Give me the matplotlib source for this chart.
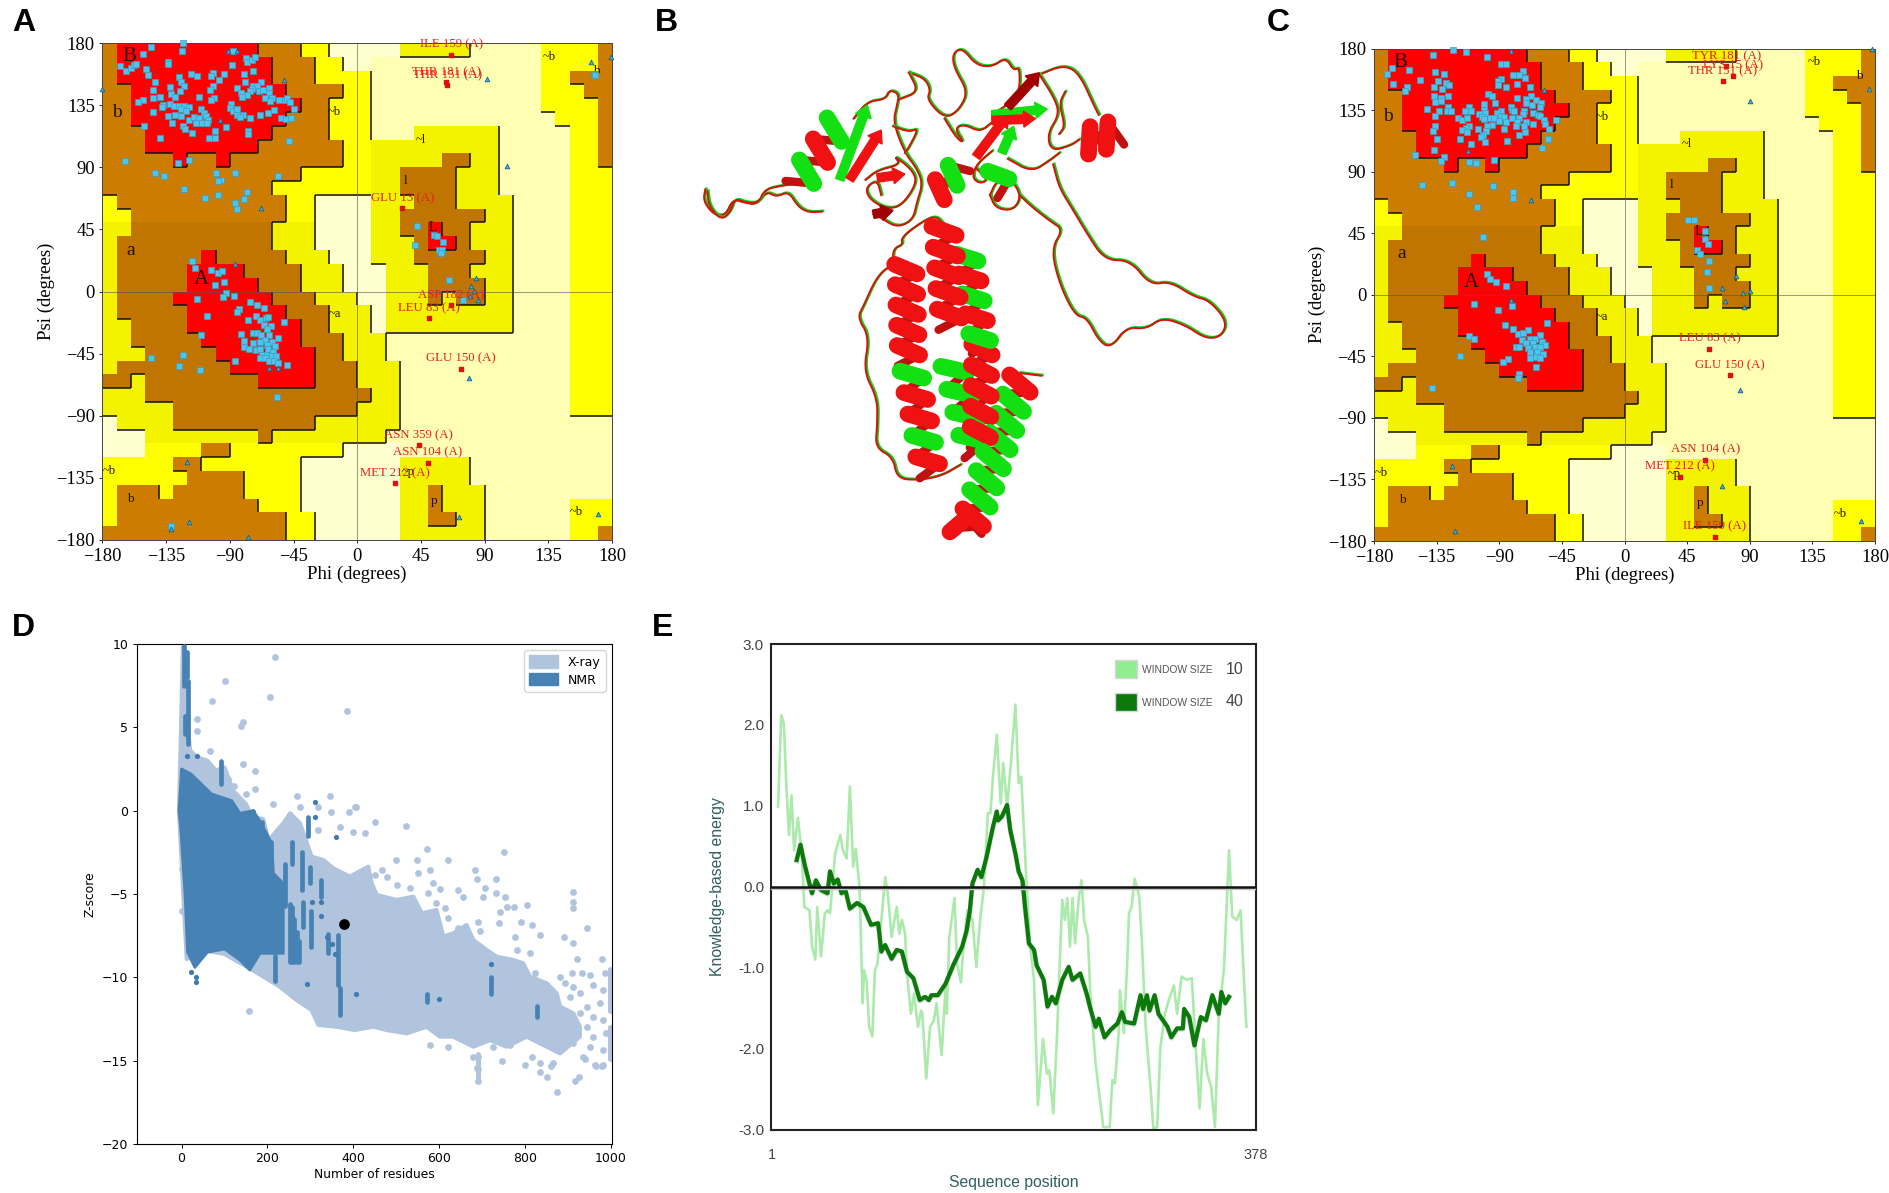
import matplotlib
matplotlib.use('Agg')
import matplotlib.pyplot as plt
import numpy as np
from matplotlib.colors import ListedColormap
from matplotlib.patches import FancyArrow, Patch, Rectangle

W, H = 1889, 1193

# Ramachandran regions, 10 degree cells, top row psi 170..180, run lengths per row
region_rows = [
    'B1 R10 B3 Y2 C5 G5 P5 Y4 B1', 'B1 R11 B3 Y2 C2 P12 Y4 B1', 'B1 R11 B3 Y4 P12 Y2 B3',
    'B2 R11 B4 Y2 P12 Y3 B2', 'B2 R12 B2 Y3 P12 Y4 B1', 'B2 R11 B3 Y3 P13 Y3 B1',
    'B3 R9 B4 Y3 P3 G6 P5 Y2 B1', 'B3 R8 B6 Y2 G9 P5 Y2 B1', 'B5 R1 B2 R1 B8 Y2 G5 D2 G2 P5 Y2 B1',
    'B14 Y5 G2 D4 G3 P5 Y3', 'B12 Y7 G2 D4 G3 P5 Y3', 'Y1 B12 Y2 C4 G3 D3 G4 P4 Y3',
    'Y2 B11 Y2 C4 G2 D6 G2 P4 Y3', 'G2 D10 G3 C4 G2 D2 R1 D2 G3 P4 Y3', 'G1 D11 G3 C4 G3 D1 R2 D1 G3 P4 Y3',
    'G1 D6 R1 D5 G3 C3 G3 D5 G2 P4 Y3', 'G1 D5 R4 D4 G3 C3 G3 D3 G3 P4 Y3', 'G1 D5 R5 D3 G3 C3 G3 D4 G2 P4 Y3',
    'G1 D4 R7 D3 G3 C2 G3 D1 G1 D2 G2 P4 Y3', 'G1 D5 R7 D3 G3 C1 G9 P4 Y3', 'G2 D4 R8 D2 G3 C1 G9 P4 Y3',
    'G2 D5 R7 D3 G3 P13 Y3', 'G3 D5 R7 D2 G3 P13 Y3', 'G1 D8 R6 D3 G3 P12 Y3',
    'D2 G1 D8 R4 D3 G3 P12 Y3', 'G3 D16 G2 P12 Y3', 'G5 D13 G3 P12 Y3',
    'C1 G4 D10 G6 P15', 'C3 G8 D1 G8 P16', 'C3 Y4 B2 Y8 C4 P15',
    'Y5 B2 Y7 C7 G5 P10', 'Y6 B4 Y4 C7 G5 P10', 'Y1 B3 Y1 B5 Y4 C7 G2 B1 G3 P9',
    'Y1 B10 Y3 C7 G2 B1 G3 P6 Y3', 'Y1 B12 Y2 C6 G2 B2 G2 P6 Y3', 'B13 Y2 C6 G6 P6 Y2 B1',
]
region_codes = 'PCGYDBR'
region_colors = ['#FFFFB4', '#FFFFD0', '#F3F300', '#FFFF00', '#C07500', '#CC7C00', '#FF0000']
region_rank = {'P': 0, 'C': 0, 'G': 1, 'Y': 1, 'D': 2, 'B': 2, 'R': 3}
region_labels = [('B', -161, 170, 15), ('b', -170, 130, 14), ('a', -160, 30, 14), ('A', -110, 9, 15),
                 ('~b', -16, 130, 9), ('~l', 45, 110, 9), ('l', 34, 80, 9.5), ('L', 53.5, 46, 10),
                 ('~a', -16, -16, 9), ('~b', 136, 170, 9), ('b', 169, 160, 9.5), ('b', -160, -150, 9.5),
                 ('~b', -175, -130, 9), ('p', 54.5, -152, 9.5), ('~p', 36, -131, 9), ('~b', 155, -160, 9)]
angle_ticks = [-180, -135, -90, -45, 0, 45, 90, 135, 180]

a_squares = [
    (-123,180),(-145.5,177),(-123.5,174.5),(-151,172),(-88,174),(-167.5,163),(-163,160),(-160,162),(-157.5,164),(-156,165),
    (-134,166),(-133.5,164.5),(-78.5,169),(-77.5,166),(-74.5,168),(-72.5,170),(-88.5,164),(-149,161),(-148,157),(-73.5,160),
    (-80,157.5),(-94,157.5),(-102,158.5),(-103,156),(-117.5,157.5),(-113.5,156),(-126,155.5),(-142.5,151.5),(-124.5,151.5),(-122.5,149),
    (-97.5,153),(-102,149),(-104,146),(-79,151.5),(-68,151.5),(-85,147.5),(-144,146),(-132.5,148),(-125,145),(-131.5,143),
    (-128.5,141),(-139,141),(-144,140),(-151,139),(-155,137),(-111.5,141),(-101,140.5),(-103,139),(-73.5,148.5),(-70.5,149),
    (-74.5,146.5),(-76,145),(-78,142),(-82,144),(-81.5,141),(-69.5,145),(-66.5,146),(-62.5,147.5),(-62,143.5),(-65,140.5),
    (-60,140.5),(-61.5,138),(-55.5,139),(-51,139),(-49.5,140),(-47.5,137.5),(-45,132.5),(-53.5,126),(-50.5,125),(-46.5,125.5),
    (-48.5,109),(-132,136),(-137,135),(-138,134),(-129.5,134.5),(-126,134.5),(-122.5,134.5),(-119,134),(-124.5,132),(-121,131),
    (-110,132.5),(-108,129),(-106.5,127),(-105.5,124),(-89,135.5),(-90,133),(-87.5,130.5),(-85,132),(-85,128),(-80.5,128),
    (-83,126.5),(-75.5,125.5),(-68.5,128),(-63,129),(-59,131.5),(-144.5,130),(-133.5,127),(-128.5,128),(-124.5,127),(-118.5,124),
    (-115,126.5),(-112,125.5),(-114,122),(-109.5,122),(-106,122),(-130.5,122),(-123,120),(-122,117.5),(-150.5,120),(-117,114.5),
    (-93,119),(-100.5,116.5),(-77,116),(-77,114),(-139.5,111),(-104.5,111),(-100.5,111),(-119,95),(-126.5,93),(-164,94.5),
    (-143,85.5),(-136.5,84),(-100,85.5),(-96.5,80.5),(-86,85.5),(-56,83.5),(-122.5,74),(-107.5,67.5),(-98,70),(-98,80),
    (-77.5,72),(-80,67),(-86,64),(-85,60),(42,47.5),(41,34),(54.5,41),(56.5,40.5),(60.5,35.5),(58,30),
    (60,30),(59,28),(64.5,8),(75,-6.5),(-131.5,-170),(167,157.5),(168,157),(-145.5,-48),
    (-117,22),(-114.5,17),(-103,15.5),(-98,13.5),(-95.5,15),(-100.5,5),(-94,7),(-93,-1),(-94.5,-4),(-87,-3),
    (-113,-5.5),(-76,-7.5),(-71,-10),(-65.5,-12),(-83.5,-13),(-85,-15),(-106,-17.5),(-71.5,-18),(-69,-21),(-77,-21),
    (-64.5,-19),(-63,-18.5),(-52,-22),(-65.5,-24.5),(-61,-25),(-63.5,-27.5),(-73.5,-30),(-71,-30),(-82,-30.5),(-68,-31.5),
    (-110,-31.5),(-80,-36),(-73.5,-37.5),(-80,-40),(-76.5,-41.5),(-71.5,-42.5),(-62,-31.5),(-56,-34),(-65,-35),(-60.5,-36.5),
    (-69,-36.5),(-64,-39),(-58,-39.5),(-69,-41.5),(-63,-42),(-59.5,-43.5),(-67.5,-46),(-64,-46),(-60.5,-47),(-57.5,-47),
    (-69,-48),(-65,-48.5),(-62,-50),(-59,-50),(-56,-51.5),(-86,-50.5),(-49.5,-53),(-123,-46),(-126,-54),(-111,-57),(-57,-76.5),
]
a_triangles = [(-68,60.5),(-86.5,20),(84,10),(80.5,4),(82.5,0.5),(79.5,-3),(85,-6.5),(105.5,91),(92,154),(79,-63),
               (165,166.5),(179.5,170),(-180,146.5),(-52,153),(-85,174.5),(-97,124),(-120.5,-123.5),(-118.5,-167),(-131.5,-172),
               (-77,-178),(72,-163),(170,-161),(-62,-55.5),(-56,-55.5),(-91,174)]
a_flagged = [('ILE 159 (A)',66.5,171.5),('THR 181 (A)',63,151.5),('THR 151 (A)',63.5,149.5),('GLU 13 (A)',32,60.5),
             ('ASP 182 (A)',66,-10),('LEU 83 (A)',50.5,-19.5),('GLU 150 (A)',73,-56),('ASN 359 (A)',43.5,-111.5),
             ('ASN 104 (A)',50,-124),('MET 212 (A)',26.5,-139)]

c_squares = [
    (-123,179),(-114,177.5),(-137.5,175),(-99,174),(-88.5,168.5),(-85.5,169),(-167,165.5),(-170.5,161),(-155,164),(-136.5,163),
    (-129.5,161),(-73,163.5),(-80,160.5),(-76,160.5),(-71.5,158.5),(-89,157.5),(-91,156.5),(-91,153.5),(-147,157),(-134,156),
    (-128,154.5),(-126,153),(-166,154),(-156.5,151.5),(-157.5,149),(-137,151.5),(-131,150.5),(-85,151.5),(-77,154),(-68,151.5),
    (-98,147),(-95,145),(-137,145),(-127,145),(-132,143.5),(-136,141),(-131.5,141.5),(-77,143.5),(-67.5,145),(-71,143),
    (-63.5,142.5),(-60,140.5),(-71,140.5),(-93,140.5),(-101,139.5),(-66.5,138.5),(-61,137),(-81.5,137.5),(-101,135),(-80.5,135),
    (-142,136),(-126.5,137.5),(-112,137.5),(-133,134),(-136,131),(-127.5,134),(-125,134),(-114.5,134),(-110.5,134),(-100,132.5),
    (-89,134),(-91.5,132.5),(-79.5,134),(-72,134),(-73,132),(-66,133),(-62.5,131.5),(-104.5,132),(-102.5,130),(-101,128.5),
    (-96.5,129),(-93.5,129.5),(-89,131),(-86.5,130),(-80.5,129),(-76,129.5),(-61,130.5),(-58,127.5),(-57,125),(-49,127.5),
    (-120,129),(-116.5,128),(-113,129.5),(-90.5,127),(-95.5,124),(-99,123),(-85,126),(-77.5,126.5),(-71,126),(-66,125),
    (-72,123),(-78,123),(-136,123),(-137.5,120),(-112,123),(-114,122),(-116.5,120.5),(-113,119),(-105,121.5),(-86.5,121),
    (-99.5,120),(-102,117),(-103,115),(-71.5,119),(-76,117),(-54,121),(-135,114),(-118.5,113.5),(-100,112),(-84.5,112.5),
    (-55,114),(-110,110),(-59,107.5),(-137,106),(-150.5,102.5),(-130,100.5),(-132,97.5),(-112,97),(-107,96),(-94,98.5),
    (-145.5,80.5),(-124,81.5),(-94.5,79.5),(-80,75),(-111.5,74),(-80,70.5),(-106,64),(-101.5,42.5),
    (45.5,55),(50,55),(58,46.5),(58,41),(60,37),(52,33),(54,30),(61,25),(59,16.5),(61,5),
    (-98.5,15),(-96.5,11.5),(-92,9.5),(-85,6.5),(-108,-7),(-80.5,-8),(-91,-11.5),(-56,-21),(-86,-22),(-80,-25),
    (-69,-26),(-76.5,-29),(-73,-28),(-61,-29.5),(-111.5,-30),(-108,-32),(-74,-33),(-68,-32),(-64.5,-32),(-70.5,-35.5),
    (-65.5,-35.5),(-59.5,-34.5),(-57,-37),(-78,-38),(-76,-38),(-69,-39),(-64.5,-38.5),(-61,-38),(-68,-41.5),(-63,-41.5),
    (-58.5,-43),(-68,-46),(-63.5,-45.5),(-118,-45),(-84,-47),(-87.5,-49),(-61,-46.5),(-63.5,-52.5),(-76,-58),(-76.5,-60.5),(-138,-68.5),
]
c_triangles = [(-67,69),(-57.5,150),(-81.5,178.5),(-112.5,105),(-81.5,-3.5),(-124,-125),(-121.5,-173),(70,-140),(170,-165.5),
               (175.5,150.5),(178,179.5),(90.5,141.5),(83,-69.5),(80,13.5),(70,5),(72,-4.5),(85,1.5),(90,3),(86,-9)]
c_flagged = [('TYR 181 (A)',73,167),('LYS 15 (A)',78,160),('THR 151 (A)',70.5,156),('LEU 83 (A)',61,-39.5),
             ('GLU 150 (A)',76,-59),('ASN 104 (A)',58,-120.5),('MET 212 (A)',40,-133),('ILE 159 (A)',65,-177)]

# panel D, outlines of the two dense clouds
xray_outline = [(-6,0),(-2,4),(3,9.8),(8,9.5),(14,5),(20,3.6),(36,3.2),(60,3),(80,2.4),(100,2.6),(120,1.2),(150,.4),(165,-.4),(190,-.5),(203,-1.8),
                (222,-1.2),(237,-.76),(253,-.16),(276,-.76),(303,-2.76),(330,-2.96),(354,-3.46),(392,-3.96),(435,-3.36),(443,-4.36),(455,-5.06),(501,-5.36),
                (540,-5.16),(560,-6.16),(594,-5.96),(610,-7.56),(633,-7.36),(664,-6.86),(680,-7.76),(711,-8.36),(734,-8.76),(773,-8.96),(796,-9.16),(812,-9.96),
                (851,-10.36),(874,-10.96),(882,-11.76),(913,-12.16),(928,-12.96),(928,-13.56),(882,-14.56),(835,-13.96),(804,-13.56),(757,-14.16),(719,-13.76),
                (680,-14.16),(633,-13.56),(602,-13.56),(571,-12.96),(525,-13.36),(478,-13.16),(447,-12.96),(404,-13.16),(361,-12.96),(319,-12.86),(303,-11.96),
                (268,-11.36),(229,-10.56),(191,-9.96),(152,-9.36),(100,-8.6),(60,-8.4),(12,-8.9),(4,-5)]
nmr_outline = [(-6,0),(0,2.5),(22,2.2),(70,1),(117,.6),(136,-.16),(167,0),(186,-.76),(210,-1.96),(214,-3.76),(237,-4.36),(237,-8.56),(183,-8.56),(159,-9.56),
               (136,-8.96),(100,-8.3),(60,-8.5),(31,-9.4),(14,-8.5),(8,-5),(-2,-1)]
xray_points = [(217,9.2),(101,7.8),(70,6.6),(207,6.8),(385,6),(144,5.3),(138,5.1),(36,5.5),(36,4.8),(67,3.6),(142,2.8),(172,2.4),(108,1.9),(123,1.5),
               (170,1.3),(150,1),(270,.9),(346,.9),(276,.2),(214,.4),(405,.2),(317,.2),(156,-12),(0,-3.5),(0,-6),
               (349,-.08),(390,-.08),(406,.2),(451,-.66),(523,-.92),(319,-1.16),(369,-.96),(400,-1.26),(427,-1.36),(573,-2.3),(751,-2.46),(499,-2.96),(548,-2.96),
               (622,-2.96),(552,-3.76),(579,-3.56),(684,-3.56),(689,-4.12),(733,-4.12),(466,-3.56),(478,-3.96),(451,-3.86),(587,-4.36),(501,-4.46),(532,-4.66),
               (602,-4.72),(645,-4.76),(656,-5.16),(707,-4.66),(703,-5.16),(733,-4.96),(575,-4.96),(754,-5.16),(758,-5.76),(775,-5.76),(804,-5.66),(742,-6.06),
               (911,-4.86),(911,-5.46),(911,-5.86),(594,-5.56),(614,-5.86),(622,-6.46),(691,-6.66),(740,-6.76),(792,-6.66),(816,-6.86),(835,-7.46),(945,-7.06),
               (645,-7.02),(695,-7.22),(777,-7.6),(890,-7.56),(913,-7.96),(921,-8.9),(979,-8.9),(812,-8.56),(781,-8.36),(823,-9.76),(909,-9.76),(932,-9.76),
               (952,-9.86),(986,-9.72),(882,-9.96),(893,-10.36),(913,-10.56),(928,-10.96),(959,-10.46),(983,-10.76),(944,-11.76),(975,-11.56),(905,-11.16),
               (928,-12.16),(959,-12.36),(983,-12.56),(913,-13.36),(944,-12.96),(959,-13.56),(990,-13.36),(913,-13.96),(952,-14.16),(983,-14.36),(936,-14.76),
               (816,-14.76),(835,-15.16),(866,-15.16),(963,-15.26),(983,-15.26),(691,-14.76),(746,-15),(800,-15.26),(688,-15.46),(579,-14.06),(622,-14.16),
               (653,-13.66),(680,-14.76),(726,-14.16),(765,-14.06),(860,-15.3),(836,-15.7),(917,-16.2),(927,-16),(690,-16.2),(690,-15.5),(874,-16.9),(852,-16),
               (965,-15.3),(979,-15.3),(941,-14.9)]
xray_columns = [(998,-9.5,-12),(998,-13,-14.9),(60,2.9,1),(690,-14.6,-16.2)]
nmr_columns = [(5,9.9,7.5),(12,9.5,8),(14,7.8,5.5),(8,5.7,4.6),(14,5.5,4),(91,3,1.6),(167,0,-1.7),(187,-.7,-2.8),(208,-1.9,-3.7),(257,-1.9,-3.2),(241,-3.2,-5.7),
               (280,-2.46,-4.76),(295,-.4,-1.5),(299,-3.36,-4.36),(325,-4.16,-5.16),(253,-5.6,-9.1),(258,-5.8,-9.1),(263,-6.5,-9.1),(268,-7.3,-9.1),(273,-7.8,-9.1),
               (284,-5.5,-7),(301,-6,-8.2),(342,-7.4,-8.56),(365,-7.46,-10.46),(369,-10.66,-12.26),(218,-8.7,-10.2),(722,-10,-11),(828,-11.7,-12.4),(571,-11,-11.5)]
nmr_points = [(310,.55),(310,-.4),(360,-1.6),(293,-10.4),(406,-11),(600,-11.3),(722,-9.2),(324,-6.3),(324,-5.5),(303,-5.5),(340,-7.6),(350,-8),(357,-8.6),
              (22,-9.7),(34,-10),(34,-10.3),(12,3.3),(36,3.3)]
query_point = (378, -6.8)
d_xticks = [0, 200, 400, 600, 800, 1000]
d_yticks = [10, 5, 0, -5, -10, -15, -20]

# panel E
window10 = [
    (5.5,.99),(8,2.12),(10,2.02),(12,1.24),(14,.64),(16,1.13),(18,.45),(21,.85),(24,.41),(26,-.25),(30,-.29),(32,-.74),(34.5,-.9),(36,-.25),(39,-.86),
    (42,-.33),(44,-.29),(46,-.33),(50,.41),(54,.64),(56,.45),(59,.35),(61.5,1.24),(64,.25),(66,.47),(69,0),(71.5,-1.44),(72.5,-1.03),(74.5,-1.15),(76.5,-1.73),
    (79,-1.85),(81,-1.03),(83,-.95),(86,-.41),(89,.12),(91,-.08),(94,-.62),(98,-.25),(100,-.58),(102,-.41),(104.5,-.58),(106,-1.07),(109,-1.57),(111.5,-1.32),
    (114.5,-1.73),(117,-1.53),(118,-1.57),(121,-2.37),(124,-1.73),(127,-1.65),(129,-1.44),(133,-2.08),(136,-1.24),(137,-1.57),(139,-.62),(143,-.14),(145,-.95),
    (148,-1.18),(150,-.74),(153,-.29),(157,-.41),(160,-.99),(163,-.41),(166,0),(169,.91),(171,.91),(173,1.36),(176,1.88),(179,1.03),(181,1.53),(184,.99),
    (187,1.53),(190.5,2.25),(193,1.28),(195,1.36),(197.5,.58),(199,.08),(202,-.74),(205,-1.15),(208,-2.7),(212,-1.88),(215,-2.31),(217,-2.27),(220,-2.8),
    (223,-1.81),(225.5,-.74),(227,-.16),(229,-.41),(231,-.14),(233,-.74),(235,-.14),(237,-.7),(240,-.12),(242,.08),(244,-.41),(247,-.62),(249,-1.36),(253,-2.19),
    (256,-2.58),(259,-2.97),(264,-2.97),(266,-2.39),(268,-2.43),(271,-1.81),(272,-1.28),(275,-1.81),(277.5,-.99),(279,-.33),(281,-.25),(283.5,.1),(287,-.12),
    (289,-.66),(292,-1.73),(296,-2.52),(298,-2.99),(301,-2.97),(303.5,-1.98),(307,-1.57),(310,-1.4),(314,-1.22),(316.5,-1.57),(320,-1.11),(324,-1.15),(328,-1.13),
    (331,-1.98),(334,-2.74),(337,-1.88),(340,-2.31),(343,-2.47),(346,-2.97),(349,-1.57),(353,-1.03),(357,.45),(359.5,-.37),(363,-.41),(366,-.29),(368.5,-1.11),(370.5,-1.73),
]
window40 = [
    (20,.33),(23,.52),(26,.29),(29,.1),(32,-.08),(35,.08),(39,-.04),(44,-.08),(46,.19),(49,.04),(52,.09),(55,-.08),(58,-.04),(61.5,-.27),(67,-.2),(72,-.25),
    (78,-.47),(83.5,-.45),(86,-.8),(89,-.72),(94,-.89),(98,-.78),(102,-.8),(106,-1.05),(111,-1.13),(116,-1.4),(120,-1.36),(123,-1.4),(125,-1.34),(130,-1.34),
    (136,-1.2),(142,-.97),(149,-.74),(152.5,-.54),(155,-.29),(157,.04),(161,.21),(164,.12),(168,.37),(173,.74),(176,.93),(177,.82),(180,.87),(184,1.01),(186.5,.7),
    (190.5,.41),(193,.19),(196,.08),(198,-.25),(201,-.7),(205,-.78),(207,-.97),(212.5,-1.15),(215.5,-1.48),(219,-1.36),(222,-1.44),(227,-1.15),(232,-.99),(235,-1.15),
    (241,-1.07),(246,-1.32),(249,-1.51),(253,-1.73),(255.5,-1.63),(260,-1.86),(264.5,-1.77),(270,-1.69),(273.5,-1.55),(276,-1.67),(283,-1.69),(288,-1.34),(290,-1.51),
    (293,-1.34),(295,-1.53),(299,-1.34),(302,-1.57),(309,-1.73),(312,-1.86),(316.5,-1.75),(321,-1.75),(322,-1.51),(326,-1.61),(330,-1.96),(335,-1.61),(339,-1.65),
    (344,-1.34),(349,-1.57),(351,-1.3),(354,-1.44),(357,-1.36),
]
e_yticks = [3, 2, 1, 0, -1, -2, -3]

# panel B drawing, in the units of its own hidden axes
ribbon_loops = [
    [(165,495),(160,525),(185,560),(215,565),(235,520),(265,530),(295,535),(320,500),(345,515),(375,500),(400,540),(425,555),(460,553)],
    [(170,500),(175,540),(205,575),(228,555),(240,518),(268,530),(300,530),(315,495),(360,485),(400,480)],
    [(540,310),(575,265),(620,260),(630,235),(655,245),(650,275),(640,320),(670,400),(700,440),(715,480),(700,530),(690,575),(650,595),(610,570),(590,560)],
    [(680,190),(720,205),(735,235),(725,260),(770,310),(805,290),(830,240),(795,180),(790,140),(815,125),(850,170),(890,175),(925,150),(945,185),(960,175),(960,240),(935,270),(890,300)],
    [(680,190),(705,240),(655,260)],
    [(770,310),(800,360),(820,375),(795,335),(820,325),(860,345),(890,320)],
    [(640,330),(680,345),(705,335),(680,385),(670,400)],
    [(570,470),(600,445),(660,430),(640,405),(690,445),(700,480),(660,540),(620,545),(580,520),(570,490),(600,470),(610,510)],
    [(1010,195),(1070,170),(1110,190),(1150,280),(1160,300)],
    [(1010,195),(1050,260),(1060,300),(1030,350),(1040,395),(1090,380),(1110,365)],
    [(1075,240),(1060,270),(1075,330),(1060,350)],
    [(850,440),(880,470),(860,480),(840,465),(850,430),(890,395)],
    [(885,510),(900,545),(945,550),(965,510),(935,465),(900,475),(885,510)],
    [(930,415),(990,450),(1035,420),(1060,400)],
    [(1045,430),(1060,490),(1090,540),(1130,610),(1175,680),(1240,680),(1290,745),(1340,735),(1400,775),(1440,785),(1485,840),(1470,880),(1430,885),(1380,850),(1320,830),(1280,860),(1230,855),(1190,910),(1160,890),(1130,830),(1100,825),(1060,740),(1040,650),(1070,600),(1040,580),(990,540),(960,510)],
    [(640,690),(600,720),(565,800),(550,830),(580,880),(565,970),(600,1040),(600,1110),(595,1170),(640,1195),(650,1250),(700,1255),(760,1245),(810,1215)],
    [(640,690),(640,650),(665,640),(660,620),(720,575),(750,565),(770,590)],
    [(960,975),(1015,982)],
]
ribbon_helices = [
    ((500,325),(395,490),3,32,'gr'),
    ((1125,370),(1215,345),2,34,'r'),
    ((750,505),(815,430),2,26,'rg'),
    ((900,440),(925,510),1,22,'gr'),
    ((672,690),(680,955),5,28,'r'),
    ((685,965),(735,1245),5,28,'grr'),
    ((768,590),(785,860),5,30,'r'),
    ((825,660),(865,920),5,26,'gr'),
    ((865,900),(860,1170),5,26,'r'),
    ((790,950),(850,1190),4,30,'g'),
    ((965,990),(830,1390),8,32,'rggggggr'),
    ((785,1370),(865,1375),1,20,'r'),
]
ribbon_strands = [((505,470),(575,275),'g'),((530,470),(610,340),'r'),((850,410),(930,300),'r'),((915,400),(945,330),'g'),
                  ((890,300),(1030,285),'g'),((890,315),(1000,310),'r'),((930,280),(1010,190),'#A00000'),((590,560),(640,550),'#A00000'),((600,465),(670,455),'r')]


def ax_px(left, top, right, bottom):
    return fig.add_axes([left / W, 1 - bottom / H, (right - left) / W, (bottom - top) / H])


def region_grid():
    rows = []
    for row in region_rows:
        cells = ''
        for run in row.split():
            cells += run[0] * int(run[1:])
        rows.append(cells)
    return rows


def rama_panel(ax, squares, triangles, flagged):
    rows = region_grid()
    grid = np.array([[region_codes.index(c) for c in row] for row in rows])
    phi_edges = np.arange(-180, 181, 10)
    psi_edges = np.arange(180, -181, -10)
    ax.pcolormesh(phi_edges, psi_edges, grid, cmap=ListedColormap(region_colors), vmin=-0.5, vmax=6.5)
    # the shadow lines go under or right of the more favoured cell
    for j, row in enumerate(rows):
        for i, c in enumerate(row):
            r = region_rank[c]
            if j < 35 and region_rank[rows[j + 1][i]] < r:
                ax.plot(phi_edges[i:i + 2], [psi_edges[j + 1]] * 2, color='#111111', lw=1.1, solid_capstyle='butt', zorder=2)
            if i < 35 and region_rank[row[i + 1]] < r:
                ax.plot([phi_edges[i + 1]] * 2, psi_edges[j:j + 2], color='#111111', lw=1.1, solid_capstyle='butt', zorder=2)
    ax.axhline(0, color='#555555', lw=0.6, alpha=0.7, zorder=2)
    ax.axvline(0, color='#555555', lw=0.6, alpha=0.7, zorder=2)
    for txt, x, y, fs in region_labels:
        ax.text(x, y, txt, family='Liberation Serif', fontsize=fs, color='#201000', ha='center', va='center', zorder=3)
    pts = np.array(squares).T
    ax.scatter(pts[0], pts[1], marker='s', s=15, c='#4CC4EC', edgecolors='#3E9CC0', linewidths=0.5, zorder=4, clip_on=False)
    pts = np.array(triangles).T
    ax.scatter(pts[0], pts[1], marker='^', s=11, c='#3FB4E0', edgecolors='#14608C', linewidths=0.6, zorder=4, clip_on=False)
    for name, x, y in flagged:
        ax.scatter([x], [y], marker='s', s=12, c='#DD1111', zorder=5)
        ax.annotate(name, (x, y), xytext=(0, 3), textcoords='offset points', ha='center', va='bottom',
                    family='Liberation Serif', fontsize=9.2, color='#E62020', zorder=6)
    ax.set_xlim(-180, 180)
    ax.set_ylim(-180, 180)
    ax.set_xticks(angle_ticks)
    ax.set_yticks(angle_ticks)
    ax.tick_params(labelsize=13.3, length=2.5, width=0.6, pad=3)
    for lab in ax.get_xticklabels() + ax.get_yticklabels():
        lab.set_family('Liberation Serif')
    ax.set_xlabel('Phi (degrees)', family='Liberation Serif', fontsize=13.5, labelpad=1)
    ax.set_ylabel('Psi (degrees)', family='Liberation Serif', fontsize=13.5, labelpad=1)
    for s in ax.spines.values():
        s.set_linewidth(0.7)
        s.set_color('#444444')


def corner_cut(points, passes=3):
    # round the traced coil so it does not look like a polyline
    pts = np.array(points, float)
    for _ in range(passes):
        q = 0.75 * pts[:-1] + 0.25 * pts[1:]
        r = 0.25 * pts[:-1] + 0.75 * pts[1:]
        mid = np.empty((2 * len(q), 2))
        mid[0::2] = q
        mid[1::2] = r
        pts = np.vstack([pts[:1], mid, pts[-1:]])
    return pts


def draw_helix(ax, p0, p1, turns, r, cols):
    p0, p1 = np.array(p0, float), np.array(p1, float)
    d = p1 - p0
    n = np.array([-d[1], d[0]]) / np.hypot(*d) * r
    cmap = {'r': '#F01212', 'g': '#12E012'}
    nb = 2 * turns
    for k in range(1, nb, 2):
        a = p0 + d * k / nb
        b = p0 + d * (k + 1) / nb
        ax.plot([a[0] - n[0], b[0] + n[0]], [a[1] - n[1], b[1] + n[1]], color='#C01010', lw=6, solid_capstyle='round', zorder=3)
    for k in range(0, nb, 2):
        a = p0 + d * k / nb
        b = p0 + d * (k + 1) / nb
        col = cmap[cols[(k // 2) % len(cols)]]
        ax.plot([a[0] + n[0], b[0] - n[0]], [a[1] + n[1], b[1] - n[1]], color=col, lw=12, solid_capstyle='round', zorder=4 + k * 0.001)


fig = plt.figure(figsize=(W / 100, H / 100), dpi=100)

ax_a = ax_px(102.4, 43, 612, 540)
rama_panel(ax_a, a_squares, a_triangles, a_flagged)
ax_c = ax_px(1374, 48.5, 1875, 541)
rama_panel(ax_c, c_squares, c_triangles, c_flagged)

# B: ribbon drawing
ax_b = ax_px(640, 0, 1260, 600)
ax_b.set_xlim(0, 1568)
ax_b.set_ylim(1568, 0)
ax_b.axis('off')
for loop in ribbon_loops:
    xs, ys = corner_cut(loop).T
    ax_b.plot(xs + 3, ys - 2, color='#14D014', lw=1.8, zorder=2)
    ax_b.plot(xs, ys, color='#D81010', lw=1.4, zorder=2)
for start, end, col in ribbon_strands:
    col = {'r': '#F01212', 'g': '#12E012'}.get(col, col)
    ax_b.add_patch(FancyArrow(start[0], start[1], end[0] - start[0], end[1] - start[1], width=22, head_width=42,
                              head_length=30, length_includes_head=True, color=col, zorder=3))
for p0, p1, turns, r, cols in ribbon_helices:
    draw_helix(ax_b, p0, p1, turns, r, cols)

# D: z-score plot
ax_d = ax_px(136.5, 644, 612, 1144)
ax_d.fill(*np.array(xray_outline).T, color='#B0C4DE', lw=3, joinstyle='round', zorder=2)
ax_d.fill(*np.array(nmr_outline).T, color='#4682B4', lw=2, joinstyle='round', zorder=3)
ax_d.scatter(*np.array(xray_points).T, s=24, color='#B0C4DE', lw=0, zorder=2)
for n, top, bottom in xray_columns:
    ax_d.plot([n, n], [top, bottom], color='#B0C4DE', lw=3.6, solid_capstyle='round', zorder=2)
for n, top, bottom in nmr_columns:
    ax_d.plot([n, n], [top, bottom], color='#4682B4', lw=3.4, solid_capstyle='round', zorder=3)
ax_d.scatter(*np.array(nmr_points).T, s=14, color='#3F7AB0', lw=0, zorder=3)
ax_d.scatter([query_point[0]], [query_point[1]], s=45, color='black', zorder=5)
ax_d.set_xlim(-105, 1003)
ax_d.set_ylim(-20, 10)
ax_d.set_xticks(d_xticks)
ax_d.set_yticks(d_yticks)
ax_d.tick_params(labelsize=9, length=3, width=0.7, pad=3)
ax_d.set_xlabel('Number of residues', fontsize=8.8, labelpad=2)
ax_d.set_ylabel('Z-score', fontsize=8.8, labelpad=4)
ax_d.legend(handles=[Patch(color='#B0C4DE', label='X-ray'), Patch(color='#4682B4', label='NMR')], loc='upper right',
            fontsize=9, handlelength=2.3, handleheight=1.15, borderaxespad=0.5, labelspacing=0.35)

# E: energy profile
ax_e = ax_px(771, 644, 1256, 1129.5)
pts10 = np.array(window10).T
pts40 = np.array(window40).T
ax_e.plot(pts10[0], pts10[1], color='#ABEAAB', lw=1.9, zorder=2)
ax_e.plot(pts40[0], pts40[1] - 0.012, color='#BBBBBB', lw=3.6, alpha=0.5, zorder=3)
ax_e.plot(pts40[0], pts40[1], color='#0B7A0B', lw=3, zorder=4)
ax_e.axhline(-0.012, color='#C8C8C8', lw=2.5, zorder=4)
ax_e.axhline(0, color='#111111', lw=1.8, zorder=5)
ax_e.set_xlim(0, 378)
ax_e.set_ylim(-3, 3)
ax_e.set_xticks([1, 378])
ax_e.set_xticklabels(['1', '378'], family='Liberation Sans', fontsize=10.5, color='#444444')
ax_e.set_yticks(e_yticks)
ax_e.set_yticklabels(['%.1f' % v for v in e_yticks], family='Liberation Sans', fontsize=11, color='#444444')
ax_e.tick_params(axis='x', length=0, pad=13)
ax_e.tick_params(axis='y', length=0, pad=5)
ax_e.set_xlabel('Sequence position', family='Liberation Sans', fontsize=11.3, color='#2F5F5F', labelpad=10)
ax_e.set_ylabel('Knowledge-based energy', family='Liberation Sans', fontsize=11.3, color='#2F5F5F', labelpad=9)
for s in ax_e.spines.values():
    s.set_linewidth(1.5)
    s.set_color('#222222')

for top, col, num in ((660, '#90EE90', '10'), (692.5, '#0B7A0B', '40')):
    fig.add_artist(Rectangle((1114.5 / W, 1 - (top + 18) / H), 22 / W, 18 / H, transform=fig.transFigure,
                             facecolor=col, edgecolor='#D5D5D5', lw=1))
    fig.text(1142 / W, 1 - (top + 10) / H, 'WINDOW SIZE', family='Liberation Sans', fontsize=7.4, color='#555555', va='center')
    fig.text(1226 / W, 1 - (top + 9) / H, num, family='Liberation Sans', fontsize=11.5, color='#444444', va='center')

for letter, x, y in (('A', 12, 23), ('B', 655, 23), ('C', 1267, 23), ('D', 12, 628), ('E', 652, 628)):
    fig.text(x / W, 1 - y / H, letter, family='Liberation Sans', weight='bold', fontsize=23, va='center', ha='left')

fig.savefig('out.png', dpi=100)
